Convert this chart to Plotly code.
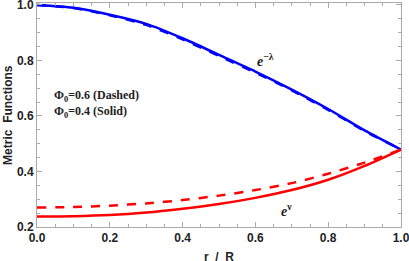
import plotly.graph_objects as go

r = [0.0, 0.1, 0.2, 0.3, 0.4, 0.5, 0.6, 0.7, 0.8, 0.9, 1.0]
elam_solid = [1.0, 0.99, 0.965, 0.932, 0.88, 0.82, 0.76, 0.695, 0.625, 0.548, 0.479]
elam_dashed = [1.0, 0.989, 0.963, 0.928, 0.876, 0.816, 0.756, 0.692, 0.622, 0.546, 0.479]
enu_solid = [0.238, 0.239, 0.243, 0.252, 0.266, 0.283, 0.305, 0.333, 0.37, 0.42, 0.479]
enu_dashed = [0.27, 0.272, 0.277, 0.285, 0.297, 0.313, 0.333, 0.358, 0.392, 0.432, 0.479]

fig = go.Figure()
spl = dict(shape="spline", smoothing=0.7)
fig.add_trace(go.Scatter(x=r, y=elam_dashed, mode="lines", line=dict(color="#0000ff", width=2.5, dash="dash", **spl)))
fig.add_trace(go.Scatter(x=r, y=elam_solid, mode="lines", line=dict(color="#0000ff", width=2.5, **spl)))
fig.add_trace(go.Scatter(x=r, y=enu_dashed, mode="lines", line=dict(color="#ff0000", width=2.5, dash="dash", **spl)))
fig.add_trace(go.Scatter(x=r, y=enu_solid, mode="lines", line=dict(color="#ff0000", width=2.5, **spl)))

serif = dict(family="Liberation Serif", size=12, color="#222", weight="bold")
fig.add_annotation(x=0.627, y=0.80, text="<i>e</i><sup>−λ</sup>", showarrow=False, font=dict(family="Liberation Serif", size=14, color="#222", weight="bold"))
fig.add_annotation(x=0.685, y=0.26, text="<i>e</i><sup>ν</sup>", showarrow=False, font=dict(family="Liberation Serif", size=14, color="#222", weight="bold"))
fig.add_annotation(x=0.042, y=0.671, xanchor="left", text="Φ<sub>0</sub>=0.6 (Dashed)", showarrow=False, font=serif)
fig.add_annotation(x=0.042, y=0.616, xanchor="left", text="Φ<sub>0</sub>=0.4 (Solid)", showarrow=False, font=serif)

title_font = dict(family="Arial", size=12, color="#222", weight="bold")
fig.add_annotation(xref="paper", yref="paper", x=0.5, y=-0.134, yanchor="middle", text="r  /  R", showarrow=False, font=title_font)
fig.add_annotation(xref="paper", yref="paper", x=-0.08, y=0.5, xanchor="center", yanchor="middle", text="Metric  Functions", textangle=-90, showarrow=False, font=title_font)

axis_common = dict(
    showgrid=False, zeroline=False, showline=True, linecolor="#aaaaaa", linewidth=1,
    mirror="allticks", ticks="inside", ticklen=5, tickcolor="#aaaaaa",
    tickfont=dict(family="Arial", size=12, color="#222", weight="bold"),
    ticklabeloverflow="allow", automargin=False,
    minor=dict(ticks="inside", ticklen=3, tickcolor="#aaaaaa", dtick=0.05),
)
fig.update_xaxes(range=[0, 1], dtick=0.2, tickformat=".1f", **axis_common)
fig.update_yaxes(range=[0.2, 1.007], dtick=0.2, tickformat=".1f", **axis_common)

fig.update_layout(
    width=409, height=261, showlegend=False,
    margin=dict(l=37, r=8, t=3, b=34),
    plot_bgcolor="white", paper_bgcolor="white",
)
fig.write_html("out.html", config={"displayModeBar": False},
               post_script="document.body.style.margin='0';document.body.style.padding='0';")
